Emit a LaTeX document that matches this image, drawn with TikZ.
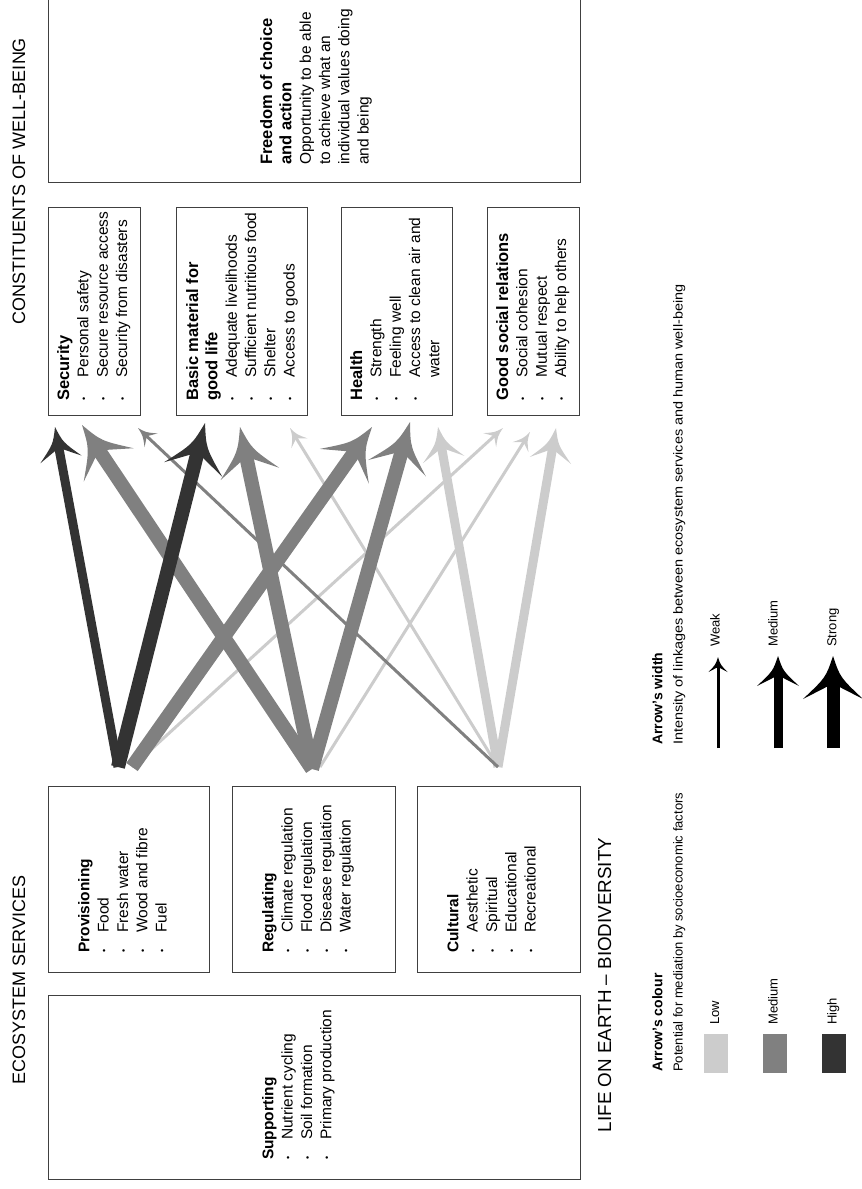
\documentclass[tikz,border=0pt]{standalone}
\usepackage{fontspec}
\setmainfont{Liberation Sans}
\usetikzlibrary{calc}
\definecolor{lowc}{HTML}{CCCCCC}
\definecolor{medc}{HTML}{808080}
\definecolor{highc}{HTML}{333333}
\definecolor{boxc}{HTML}{404040}
\newcommand\bulr{\makebox[23pt][l]{\raisebox{1.5pt}{\fontsize{9pt}{9pt}\selectfont •}}}
\newcommand\bulb{\makebox[20pt][l]{\raisebox{1.5pt}{\fontsize{9pt}{9pt}\selectfont •}}}
\newcommand\bt[1]{{\fontsize{16.5pt}{19.3pt}\selectfont\bfseries #1}}
% #1 source, #2 tip, #3 colour, #4 shaft width, #5 head length, #6 head width
\newcommand\esarrow[6]{%
  \pgfmathsetlengthmacro\esL{#5}%
  \pgfmathsetlengthmacro\esH{0.5*#6}%
  \pgfmathsetlengthmacro\esK{0.5*#5}%
  \pgfmathsetlengthmacro\esKh{0.12*#6}%
  \pgfmathsetlengthmacro\esB{0.72*#5}%
  \pgfmathsetlengthmacro\esS{0.55*#5}%
  \pgfmathsetlengthmacro\esW{0.5*#4}%
  \draw[#3,line width=#4pt] (#1) -- ($(#2)!\esS!(#1)$);
  \fill[#3] (#2) .. controls ($(#2)!\esK!(#1)!\esKh!90:(#1)$) .. ($(#2)!\esL!(#1)!\esH!90:(#1)$)
    -- ($(#2)!\esB!(#1)!\esW!90:(#1)$) -- ($(#2)!\esB!(#1)!\esW!-90:(#1)$)
    -- ($(#2)!\esL!(#1)!\esH!-90:(#1)$) .. controls ($(#2)!\esK!(#1)!\esKh!-90:(#1)$) .. (#2) -- cycle;
}
\begin{document}
\begin{tikzpicture}[x=1pt,y=-1pt,
  box/.style={draw=boxc, line width=1.1pt, inner sep=0pt},
  btxt/.style={rotate=90, align=left, inner sep=0pt, anchor=north west, font=\fontsize{15.5pt}{19.3pt}\selectfont},
  ttl/.style={rotate=90, inner sep=0pt, anchor=base, font=\fontsize{18pt}{21pt}\selectfont},
  ltxt/.style={rotate=90, inner sep=0pt, anchor=north west, font=\fontsize{13pt}{15pt}\selectfont},
  lbold/.style={rotate=90, inner sep=0pt, anchor=north west, font=\fontsize{14pt}{16pt}\selectfont\bfseries},
  swatch/.style={inner sep=0pt, minimum width=24pt, minimum height=39pt, anchor=north west}]
\useasboundingbox (0,0) rectangle (862,1189);

% titles
\node[ttl] (tcon) at (25,181) {CONSTITUENTS OF WELL-BEING};
\node[ttl] (teco) at (25,980) {ECOSYSTEM SERVICES};
\node[ttl, font=\fontsize{18.8pt}{21pt}\selectfont] (tlife) at (611,985) {LIFE ON EARTH – BIODIVERSITY};

% well-being boxes
\node[box, anchor=south west, minimum width=532pt, minimum height=190pt] (free) at (48,183) {};
\node[box, anchor=north west, minimum width=92pt, minimum height=208pt] (sec) at (48,207) {};
\node[box, anchor=north west, minimum width=131pt, minimum height=208pt] (bas) at (176,207) {};
\node[box, anchor=north west, minimum width=111pt, minimum height=208pt] (hea) at (341,207) {};
\node[box, anchor=north west, minimum width=92pt, minimum height=208pt] (soc) at (487,207) {};

\node[btxt] (freet) at (260,165) {\bt{Freedom of choice}\\\bt{and action}\\Opportunity to be able\\to achieve what an\\individual values doing\\and being};
\node[btxt] (sect) at (57,401) {\bt{Security}\\\bulr Personal safety\\\bulr Secure resource access\\\bulr Security from disasters};
\node[btxt] (bast) at (186,401) {\bt{Basic material for}\\\bt{good life}\\\bulr Adequate livelihoods\\\bulr Sufficient nutritious food\\\bulr Shelter\\\bulr Access to goods};
\node[btxt] (heat) at (350,401) {\bt{Health}\\\bulr Strength\\\bulr Feeling well\\\bulr Access to clean air and\\\hspace*{23pt}water};
\node[btxt] (soct) at (496,401) {\bt{Good social relations}\\\bulr Social cohesion\\\bulr Mutual respect\\\bulr Ability to help others};

% ecosystem service boxes
\node[box, anchor=north west, minimum width=161pt, minimum height=186pt] (pro) at (48,786) {};
\node[box, anchor=north west, minimum width=163pt, minimum height=186pt] (reg) at (232,786) {};
\node[box, anchor=north west, minimum width=163pt, minimum height=186pt] (cul) at (417,786) {};
\node[box, anchor=north west, minimum width=532pt, minimum height=184pt] (sup) at (48,995) {};

\node[btxt] (prot) at (78,953) {\textbf{Provisioning}\\\bulb Food\\\bulb Fresh water\\\bulb Wood and fibre\\\bulb Fuel};
\node[btxt] (regt) at (262,953) {\textbf{Regulating}\\\bulb Climate regulation\\\bulb Flood regulation\\\bulb Disease regulation\\\bulb Water regulation};
\node[btxt] (cult) at (447,953) {\textbf{Cultural}\\\bulb Aesthetic\\\bulb Spiritual\\\bulb Educational\\\bulb Recreational};
\node[btxt] (supt) at (262,1160) {\textbf{Supporting}\\\bulb Nutrient cycling\\\bulb Soil formation\\\bulb Primary production};

% arrow end points
\coordinate (provA) at (118,767);
\coordinate (provB) at (132,767);
\coordinate (regA) at (312,769);
\coordinate (regB) at (320,767);
\coordinate (culA) at (498,767);
\coordinate (sec1) at (55,427);
\coordinate (sec2) at (82,425);
\coordinate (sec3) at (138,428);
\coordinate (bas1) at (205,423);
\coordinate (bas2) at (240,427);
\coordinate (bas3) at (290,428);
\coordinate (hea1) at (372,427);
\coordinate (hea2) at (410,422);
\coordinate (hea3) at (438,427);
\coordinate (soc1) at (503,428);
\coordinate (soc2) at (530,432);
\coordinate (soc3) at (556,428);

% light
\esarrow{provB}{soc1}{lowc}{3}{18}{19}
\esarrow{regB}{soc2}{lowc}{3}{18}{19}
\esarrow{culA}{bas3}{lowc}{3}{18}{19}
\esarrow{culA}{hea3}{lowc}{9}{33}{42}
\esarrow{culA}{soc3}{lowc}{9}{33}{42}
% medium
\esarrow{culA}{sec3}{medc}{3}{18}{19}
\esarrow{provB}{hea1}{medc}{14}{48}{60}
\esarrow{regA}{sec2}{medc}{14}{48}{60}
\esarrow{regA}{bas2}{medc}{14}{48}{60}
\esarrow{regA}{hea2}{medc}{14}{48}{60}
% dark
\esarrow{provA}{sec1}{highc}{9}{33}{42}
\esarrow{provA}{bas1}{highc}{14}{48}{60}

% legend: colour
\node[lbold] (lcol) at (652,1072) {Arrow’s colour};
\node[ltxt] (lcold) at (673,1072) {Potential for mediation by socioeconomic factors};
\node[swatch, fill=lowc] (swl) at (704,1034) {};
\node[swatch, fill=medc] (swm) at (763,1034) {};
\node[swatch, fill=highc] (swh) at (822,1034) {};
\node[ltxt] (lowl) at (710,1025) {Low};
\node[ltxt] (medl) at (768,1025) {Medium};
\node[ltxt] (highl) at (827,1025) {High};

% legend: width
\node[lbold] (lwid) at (652,745) {Arrow’s width};
\node[ltxt] (lwidd) at (673,745) {\scalebox{1.11}[1]{Intensity of linkages between ecosystem services and human well-being}};
\coordinate (wk0) at (718,748);
\coordinate (wk1) at (718,657);
\coordinate (md0) at (778,748);
\coordinate (md1) at (778,656);
\coordinate (st0) at (833,748);
\coordinate (st1) at (833,656);
\esarrow{wk0}{wk1}{black}{3}{15}{19}
\esarrow{md0}{md1}{black}{9}{30}{42}
\esarrow{st0}{st1}{black}{13}{43}{60}
\node[ltxt] (weakl) at (710,647) {Weak};
\node[ltxt] (mediuml) at (768,647) {Medium};
\node[ltxt] (strongl) at (827,647) {Strong};
\end{tikzpicture}
\end{document}
